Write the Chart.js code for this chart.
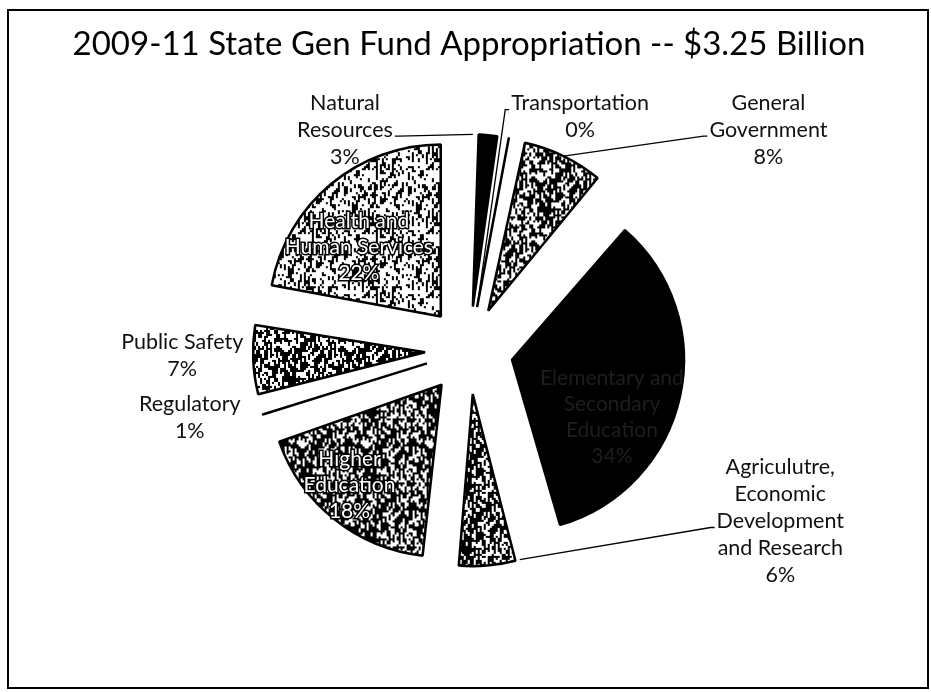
<!DOCTYPE html>
<html>
<head>
<meta charset="utf-8">
<script src="https://cdn.jsdelivr.net/npm/chart.js@4.4.1/dist/chart.umd.min.js"></script>
<style>
  body { margin: 0; background: #fff; }
</style>
</head>
<body>
<canvas id="pie" width="931" height="692"></canvas>
<script>
// Données du graphique
const categories = ["Natural Resources", "Transportation", "General Government", "Elementary and Secondary Education",
    "Agriculutre, Economic Development and Research", "Higher Education", "Regulatory", "Public Safety", "Health and Human Services"];
const shares = [2.8, 0.3, 8.2, 34.3, 6.1, 18.0, 1.0, 7.2, 22.1];
const labelLines = [
    ["Natural", "Resources", "3%"],
    ["Transportation", "0%"],
    ["General", "Government", "8%"],
    ["Elementary and", "Secondary", "Education", "34%"],
    ["Agriculutre,", "Economic", "Development", "and Research", "6%"],
    ["Higher", "Education", "18%"],
    ["Regulatory", "1%"],
    ["Public Safety", "7%"],
    ["Health and", "Human Services", "22%"]
];

const RAYON = 172;
const ECLATE = 176; // chart.js deplace la part de offset/4

//Générer une texture "photocopie" (bruit déterministe, pas de hasard)
function texture(blanc, taille) {
    const c = document.createElement('canvas');
    c.width = 64;
    c.height = 64;
    const g = c.getContext('2d');
    g.fillStyle = '#000';
    g.fillRect(0, 0, 64, 64);
    g.fillStyle = '#fff';
    for (let y = 0; y < 64; y += taille) {
        for (let x = 0; x < 64; x += taille) {
            let h = Math.sin(x * 12.9898 + y * 78.233) * 43758.5453;
            h = h - Math.floor(h);
            if (h < blanc) g.fillRect(x, y, taille, taille * 2);
        }
    }
    return g.createPattern(c, 'repeat');
}

const ctx = document.getElementById('pie').getContext('2d');
const fonds = [
    '#000',
    '#000',
    texture(0.28, 2),
    '#000',
    texture(0.25, 2),
    texture(0.25, 2),
    texture(0.15, 2),
    texture(0.28, 2),
    texture(0.45, 2)
];

//Position des étiquettes : décalage depuis le milieu du bord extérieur de la part
const etiquettes = [
    {dx: -143, dy: -5, lien: 'debut', cote: 'droite', style: 'ext'},
    {dx: 0, dy: 0, lien: 'sommet', cote: 'gauche', style: 'ext', fixe: true},
    {dx: 205, dy: -26, lien: 'milieu', cote: 'gauche', style: 'ext'},
    {dx: -68, dy: 20, style: 'noir'},
    {dx: 293, dy: -44, lien: 'debut', cote: 'gauche', style: 'ext'},
    {dx: 15, dy: -34, style: 'blanc'},
    {dx: -73, dy: 3, style: 'ext'},
    {dx: -71, dy: -4, style: 'ext'},
    {dx: 28, dy: 63, style: 'blanc'}
];

const cadre = {
    id: 'cadre',
    beforeDraw(chart) {
        const c = chart.ctx;
        c.save();
        c.fillStyle = '#fff';
        c.fillRect(0, 0, chart.width, chart.height);
        c.strokeStyle = '#000';
        c.lineWidth = 2;
        c.strokeRect(8, 10, 920, 678);
        c.restore();
    }
};

//Compenser l'agrandissement des petites parts que chart.js ajoute avec offset
const rayonFixe = {
    id: 'rayonFixe',
    beforeDatasetsDraw(chart) {
        const meta = chart.getDatasetMeta(0);
        meta.data.forEach(function (arc) {
            const circ = arc.endAngle - arc.startAngle;
            const fix = 1 - Math.sin(Math.min(Math.PI, circ));
            arc.outerRadius = RAYON - (ECLATE / 4) * fix;
        });
    }
};

const textes = {
    id: 'textes',
    afterDatasetsDraw(chart) {
        const c = chart.ctx;
        const meta = chart.getDatasetMeta(0);
        c.save();
        c.textAlign = 'center';
        c.textBaseline = 'middle';
        meta.data.forEach(function (arc, i) {
            const e = etiquettes[i];
            const mid = (arc.startAngle + arc.endAngle) / 2;
            const t = ECLATE / 4;
            const ax = arc.x + Math.cos(mid) * t;
            const ay = arc.y + Math.sin(mid) * t;
            const mx = ax + Math.cos(mid) * RAYON;
            const my = ay + Math.sin(mid) * RAYON;
            const lignes = labelLines[i];
            let lx = mx + e.dx;
            let ly = my + e.dy;
            if (e.fixe) {
                lx = ax + 103;
                ly = ay - 190;
            }
            const interligne = e.style === 'ext' ? 27 : 26;
            c.font = (e.style === 'ext' ? '21.5px' : '21px') + ' Lato';
            const y0 = ly - (lignes.length - 1) * interligne / 2;

            //Trait de rappel
            if (e.lien) {
                let px = mx, py = my;
                if (e.lien === 'debut') {
                    px = ax + Math.cos(arc.startAngle) * RAYON;
                    py = ay + Math.sin(arc.startAngle) * RAYON;
                } else if (e.lien === 'sommet') {
                    px = ax;
                    py = ay;
                }
                //ligne de texte qui porte le trait
                const k = e.lien === 'sommet' ? 0 : (lignes.length >= 5 ? 2 : 1);
                const w = c.measureText(lignes[k]).width;
                const tx = e.cote === 'droite' ? lx + w / 2 + 2 : lx - w / 2 - 2;
                const ty = y0 + k * interligne + 6;
                c.beginPath();
                c.strokeStyle = '#000';
                c.lineWidth = 1.3;
                c.moveTo(tx, ty);
                c.lineTo(tx + (e.cote === 'droite' ? 4 : -4), ty);
                c.lineTo(px, py);
                c.stroke();
            }

            lignes.forEach(function (txt, k) {
                const y = y0 + k * interligne;
                if (e.style === 'blanc') {
                    c.lineWidth = 3;
                    c.strokeStyle = '#000';
                    c.strokeText(txt, lx, y);
                    c.fillStyle = '#fff';
                    c.fillText(txt, lx, y);
                } else if (e.style === 'noir') {
                    c.fillStyle = '#1e1e1e';
                    c.fillText(txt, lx, y);
                } else {
                    c.fillStyle = '#111';
                    c.fillText(txt, lx, y);
                }
            });
        });
        c.restore();
    }
};

new Chart(ctx, {
    type: 'pie',
    data: {
        labels: categories,
        datasets: [{
            data: shares,
            backgroundColor: fonds,
            borderColor: '#000',
            borderWidth: 2.5,
            offset: ECLATE,
            hoverOffset: ECLATE,
            radius: RAYON
        }]
    },
    options: {
        responsive: false,
        animation: false,
        events: [],
        layout: {padding: {left: 7, right: 0, top: 0, bottom: 66}},
        plugins: {
            legend: {display: false},
            tooltip: {enabled: false},
            title: {
                display: true,
                text: '2009-11 State Gen Fund Appropriation -- $3.25 Billion',
                color: '#000',
                font: {family: 'Lato', size: 33, weight: 'normal'},
                padding: {top: 25, bottom: 10}
            }
        }
    },
    plugins: [cadre, rayonFixe, textes]
});
</script>
</body>
</html>
